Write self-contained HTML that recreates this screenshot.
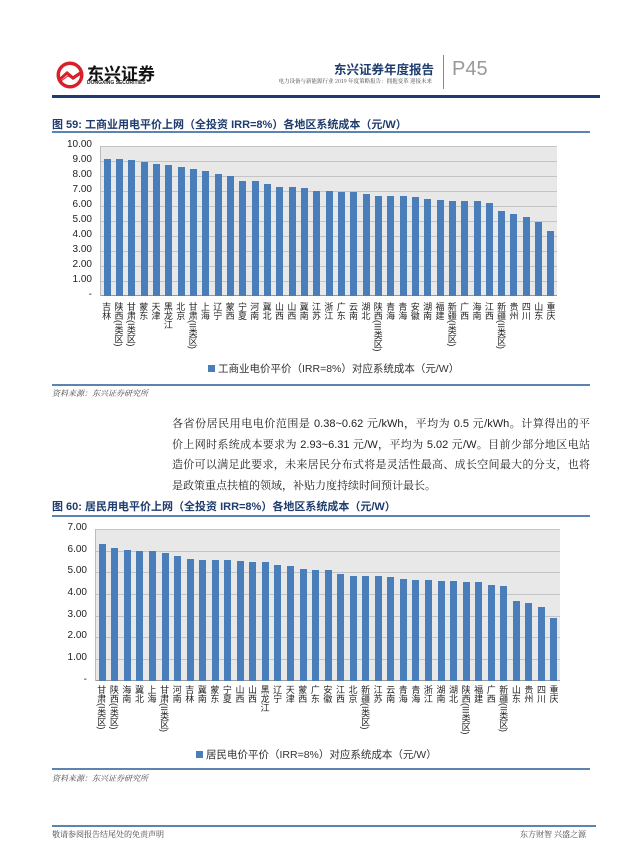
<!DOCTYPE html>
<html><head><meta charset="utf-8">
<style>
*{margin:0;padding:0;box-sizing:border-box}
body{width:640px;height:867px;background:#fff;position:relative;overflow:hidden;font-family:"Liberation Sans","Noto Sans CJK SC",sans-serif;color:#333}
.abs{position:absolute}
.figt{position:absolute;left:52px;font-size:11px;font-weight:bold;color:#1f3c6e;white-space:nowrap}
.ul{position:absolute;left:52px;width:538px;height:2px;background:#5b84b1}
.src{position:absolute;left:52px;font-size:8px;font-style:italic;color:#444;font-family:"Noto Serif CJK SC",serif}
.plot{position:absolute;background:#e8e8e8;border-left:1px solid #bbb}
.grid{position:absolute;left:0;right:0;height:1px;background:#c4c4c4}
.bars{position:absolute;left:0;right:0;top:0;bottom:0;display:flex;align-items:flex-end}
.bars div{flex:1;display:flex;justify-content:center;align-items:flex-end;height:100%}
.bars div span{display:block;width:7px;background:#4a7ebb}
.ylab{position:absolute;width:40px;text-align:right;font-size:10px;color:#222}
.labs{position:absolute;display:flex}
.labs div{flex:1;display:flex;justify-content:center}
.labs span{writing-mode:vertical-rl;font-size:9px;line-height:10px;color:#222;white-space:nowrap}
.leg{position:absolute;font-size:10.5px;color:#333;white-space:nowrap}
.leg i{display:inline-block;width:7px;height:7px;background:#4a7ebb;margin-right:3px;vertical-align:0}
.para{position:absolute;left:172px;width:418px;font-family:"Liberation Sans","Noto Serif CJK SC",serif;font-size:11px;color:#222}
.para div{height:20.5px;line-height:20.5px;text-align:justify;text-align-last:justify;white-space:nowrap;overflow:hidden}
.para div.last{text-align-last:left}
</style></head><body>

<!-- header -->
<svg class="abs" style="left:55px;top:60px" width="30" height="30" viewBox="0 0 30 30">
<circle cx="15" cy="15" r="13.5" fill="#d7202a"/>
<circle cx="15" cy="15" r="10" fill="#fff"/>
<path d="M3 19 L12 11 L18 16 L27 10 L27 14 L18 20 L12 15 L4 22Z" fill="#d7202a"/>
<path d="M6 21 L13 16 L18 19" stroke="#d7202a" stroke-width="1" fill="none"/>
</svg>
<div class="abs" style="left:87px;top:60px;font-size:17px;font-weight:bold;color:#111">东兴证券</div>
<div class="abs" style="left:87px;top:80px;font-size:5px;font-weight:bold;color:#222">DONGXING SECURITIES</div>
<div class="abs" style="right:206px;top:59px;font-size:12.5px;font-weight:bold;color:#1f3c6e;white-space:nowrap">东兴证券年度报告</div>
<div class="abs" style="right:208px;top:77px;font-size:5.5px;color:#444;font-family:'Noto Serif CJK SC',serif;white-space:nowrap">电力设备与新能源行业 2019 年度策略报告：拥抱变革 迎接未来</div>
<div class="abs" style="left:443px;top:55px;width:1px;height:34px;background:#888"></div>
<div class="abs" style="left:452px;top:58px;font-size:20px;color:#999">P45</div>
<div class="abs" style="left:52px;top:95px;width:548px;height:3px;background:#1f3c6e"></div>

<!-- figure 59 -->
<div class="figt" style="top:116px">图 59: 工商业用电平价上网（全投资 IRR=8%）各地区系统成本（元/W）</div>
<div class="ul" style="top:131px"></div>

<div class="plot" style="left:100px;top:146px;width:457px;height:150px">
<div class="grid" style="top:0"></div><div class="grid" style="top:15px"></div><div class="grid" style="top:30px"></div><div class="grid" style="top:45px"></div><div class="grid" style="top:60px"></div><div class="grid" style="top:75px"></div><div class="grid" style="top:90px"></div><div class="grid" style="top:105px"></div><div class="grid" style="top:120px"></div><div class="grid" style="top:135px"></div><div class="grid" style="top:149px;background:#999"></div>
<div class="bars">
<div><span style="height:137px"></span></div><div><span style="height:137px"></span></div><div><span style="height:136px"></span></div><div><span style="height:134.5px"></span></div><div><span style="height:131.7px"></span></div><div><span style="height:130.8px"></span></div><div><span style="height:129px"></span></div><div><span style="height:126.7px"></span></div><div><span style="height:125.5px"></span></div><div><span style="height:122.5px"></span></div><div><span style="height:119.7px"></span></div><div><span style="height:115px"></span></div><div><span style="height:115px"></span></div><div><span style="height:112.2px"></span></div><div><span style="height:108.7px"></span></div><div><span style="height:108.7px"></span></div><div><span style="height:108px"></span></div><div><span style="height:105px"></span></div><div><span style="height:104.7px"></span></div><div><span style="height:104.5px"></span></div><div><span style="height:104.5px"></span></div><div><span style="height:102.4px"></span></div><div><span style="height:100.5px"></span></div><div><span style="height:99.7px"></span></div><div><span style="height:99.7px"></span></div><div><span style="height:99.4px"></span></div><div><span style="height:97.5px"></span></div><div><span style="height:96.4px"></span></div><div><span style="height:95.5px"></span></div><div><span style="height:95.2px"></span></div><div><span style="height:94.9px"></span></div><div><span style="height:92.7px"></span></div><div><span style="height:85.3px"></span></div><div><span style="height:81.7px"></span></div><div><span style="height:79.3px"></span></div><div><span style="height:73.6px"></span></div><div><span style="height:65px"></span></div>
</div></div>
<div class="ylab" style="left:52px;top:139px">10.00</div>
<div class="ylab" style="left:52px;top:154px">9.00</div>
<div class="ylab" style="left:52px;top:169px">8.00</div>
<div class="ylab" style="left:52px;top:184px">7.00</div>
<div class="ylab" style="left:52px;top:199px">6.00</div>
<div class="ylab" style="left:52px;top:214px">5.00</div>
<div class="ylab" style="left:52px;top:229px">4.00</div>
<div class="ylab" style="left:52px;top:244px">3.00</div>
<div class="ylab" style="left:52px;top:259px">2.00</div>
<div class="ylab" style="left:52px;top:274px">1.00</div>
<div class="ylab" style="left:52px;top:289px">-</div>
<div class="labs" style="left:100px;top:302px;width:457px">
<div><span>吉林</span></div><div><span>陕西(I类区)</span></div><div><span>甘肃(I类区)</span></div><div><span>蒙东</span></div><div><span>天津</span></div><div><span>黑龙江</span></div><div><span>北京</span></div><div><span>甘肃(II类区)</span></div><div><span>上海</span></div><div><span>辽宁</span></div><div><span>蒙西</span></div><div><span>宁夏</span></div><div><span>河南</span></div><div><span>冀北</span></div><div><span>山西</span></div><div><span>山西</span></div><div><span>冀南</span></div><div><span>江苏</span></div><div><span>浙江</span></div><div><span>广东</span></div><div><span>云南</span></div><div><span>湖北</span></div><div><span>陕西(III类区)</span></div><div><span>青海</span></div><div><span>青海</span></div><div><span>安徽</span></div><div><span>湖南</span></div><div><span>福建</span></div><div><span>新疆(I类区)</span></div><div><span>广西</span></div><div><span>海南</span></div><div><span>江西</span></div><div><span>新疆(II类区)</span></div><div><span>贵州</span></div><div><span>四川</span></div><div><span>山东</span></div><div><span>重庆</span></div>
</div>
<div class="leg" style="left:208px;top:361px"><i></i>工商业电价平价（IRR=8%）对应系统成本（元/W）</div>
<div class="ul" style="top:384px;height:1.5px"></div>
<div class="src" style="top:388px">资料来源：东兴证券研究所</div>

<div class="para" style="top:414px">
<div>各省份居民用电电价范围是 0.38~0.62 元/kWh，平均为 0.5 元/kWh。计算得出的平</div>
<div>价上网时系统成本要求为 2.93~6.31 元/W，平均为 5.02 元/W。目前少部分地区电站</div>
<div>造价可以满足此要求，未来居民分布式将是灵活性最高、成长空间最大的分支，也将</div>
<div class="last">是政策重点扶植的领域，补贴力度持续时间预计最长。</div>
</div>

<!-- figure 60 -->
<div class="figt" style="top:498px">图 60: 居民用电平价上网（全投资 IRR=8%）各地区系统成本（元/W）</div>
<div class="ul" style="top:515px"></div>

<div class="plot" style="left:95px;top:529px;width:465px;height:152px">
<div class="grid" style="top:0"></div><div class="grid" style="top:21.7px"></div><div class="grid" style="top:43.4px"></div><div class="grid" style="top:65px"></div><div class="grid" style="top:86.7px"></div><div class="grid" style="top:108.4px"></div><div class="grid" style="top:130px"></div><div class="grid" style="top:151px;background:#999"></div>
<div class="bars">
<div><span style="height:136.7px"></span></div><div><span style="height:133.3px"></span></div><div><span style="height:130.7px"></span></div><div><span style="height:130px"></span></div><div><span style="height:129.6px"></span></div><div><span style="height:127.9px"></span></div><div><span style="height:125px"></span></div><div><span style="height:122px"></span></div><div><span style="height:120.9px"></span></div><div><span style="height:120.7px"></span></div><div><span style="height:120.7px"></span></div><div><span style="height:120.5px"></span></div><div><span style="height:119.2px"></span></div><div><span style="height:119.2px"></span></div><div><span style="height:116.4px"></span></div><div><span style="height:114.9px"></span></div><div><span style="height:111.6px"></span></div><div><span style="height:111.2px"></span></div><div><span style="height:110.7px"></span></div><div><span style="height:107.3px"></span></div><div><span style="height:105.5px"></span></div><div><span style="height:105.5px"></span></div><div><span style="height:104.7px"></span></div><div><span style="height:104px"></span></div><div><span style="height:102.3px"></span></div><div><span style="height:101.4px"></span></div><div><span style="height:101px"></span></div><div><span style="height:100.3px"></span></div><div><span style="height:100.1px"></span></div><div><span style="height:99px"></span></div><div><span style="height:99px"></span></div><div><span style="height:96px"></span></div><div><span style="height:95.3px"></span></div><div><span style="height:79.7px"></span></div><div><span style="height:77.6px"></span></div><div><span style="height:74.5px"></span></div><div><span style="height:63.5px"></span></div>
</div></div>
<div class="ylab" style="left:47px;top:522px">7.00</div>
<div class="ylab" style="left:47px;top:544px">6.00</div>
<div class="ylab" style="left:47px;top:565px">5.00</div>
<div class="ylab" style="left:47px;top:587px">4.00</div>
<div class="ylab" style="left:47px;top:609px">3.00</div>
<div class="ylab" style="left:47px;top:630px">2.00</div>
<div class="ylab" style="left:47px;top:652px">1.00</div>
<div class="ylab" style="left:47px;top:674px">-</div>
<div class="labs" style="left:95px;top:685px;width:465px">
<div><span>甘肃(I类区)</span></div><div><span>陕西(I类区)</span></div><div><span>海南</span></div><div><span>冀北</span></div><div><span>上海</span></div><div><span>甘肃(II类区)</span></div><div><span>河南</span></div><div><span>吉林</span></div><div><span>冀南</span></div><div><span>蒙东</span></div><div><span>宁夏</span></div><div><span>山西</span></div><div><span>山西</span></div><div><span>黑龙江</span></div><div><span>辽宁</span></div><div><span>天津</span></div><div><span>蒙西</span></div><div><span>广东</span></div><div><span>安徽</span></div><div><span>江西</span></div><div><span>北京</span></div><div><span>新疆(I类区)</span></div><div><span>江苏</span></div><div><span>云南</span></div><div><span>青海</span></div><div><span>青海</span></div><div><span>浙江</span></div><div><span>湖南</span></div><div><span>湖北</span></div><div><span>陕西(III类区)</span></div><div><span>福建</span></div><div><span>广西</span></div><div><span>新疆(II类区)</span></div><div><span>山东</span></div><div><span>贵州</span></div><div><span>四川</span></div><div><span>重庆</span></div>
</div>
<div class="leg" style="left:196px;top:747px"><i></i>居民电价平价（IRR=8%）对应系统成本（元/W）</div>
<div class="ul" style="top:768px;height:1.5px"></div>
<div class="src" style="top:773px">资料来源：东兴证券研究所</div>

<!-- footer -->
<div class="ul" style="top:825px;height:1.5px;width:544px"></div>
<div class="src" style="top:829px;font-style:normal">敬请参阅报告结尾处的免责声明</div>
<div class="src" style="top:829px;left:520px;font-style:normal">东方财智 兴盛之源</div>
</body></html>
